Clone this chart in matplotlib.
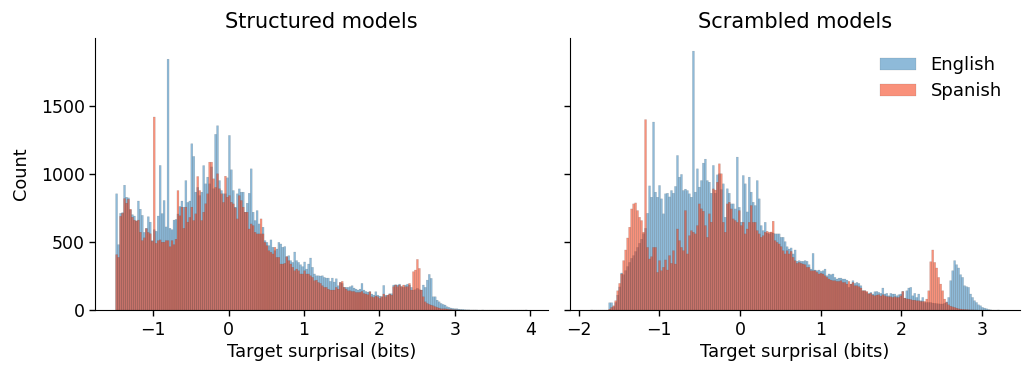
import numpy as np
import matplotlib
matplotlib.use("Agg")
import matplotlib.pyplot as plt
from matplotlib.patches import Patch

# ---------------------------------------------------------------
# Histogram counts of target surprisal (bits), equal-width bins
# ---------------------------------------------------------------
languages = ["English", "Spanish"]
panel_titles = ["Structured models", "Scrambled models"]
x_label = "Target surprisal (bits)"
y_label = "Count"

# Structured models: 208 bins spanning [-1.5, 3.96]
structured_range = (-1.5, 3.96)
structured_english = [
    853, 480, 710, 715, 916, 828, 823, 735, 700, 690,
    655, 800, 740, 695, 570, 600, 685, 645, 510, 590,
    578, 690, 1061, 708, 804, 610, 1840, 600, 590, 660,
    665, 705, 760, 800, 755, 950, 790, 800, 1220, 1127,
    865, 900, 840, 865, 1060, 926, 975, 926, 1050, 890,
    1289, 1352, 950, 877, 853, 853, 970,
    1281, 1029, 877, 755, 853, 889, 865, 865, 718, 784,
    857, 1036, 718, 657, 730, 632, 559, 608, 510, 497,
    473, 515, 461, 436, 448, 497, 485, 461, 466, 392,
    399, 363, 350, 426, 363, 350, 333, 319, 353, 301,
    338, 382, 314, 265, 252, 252, 250, 252, 240, 235,
    235, 211, 235, 206, 230, 179, 203, 196, 167, 167,
    167, 172, 179, 162, 154, 147, 154, 196, 147, 137,
    132,
    135, 118, 110, 135, 110, 103, 98, 181, 110, 108,
    120, 120, 184, 186, 184, 191, 172, 167, 184, 191,
    184, 167, 147, 150, 160, 150, 147, 184, 167, 220,
    262, 233, 98, 98, 73, 61, 49, 42, 37, 25,
    20, 15, 12, 10, 10, 7, 5, 5, 3, 2,
    2,
    1, 1, 1, 1, 0, 0, 1, 0, 0, 0,
    0, 0, 0, 0, 0, 0, 0, 0, 0, 0,
    0, 0, 0, 0, 0, 0, 0, 0, 1,
]
structured_spanish = [
    407, 387, 688, 710, 818, 784, 813, 740, 681, 660,
    652, 660, 571, 510, 530, 598, 570, 560, 505, 1416,
    490, 510, 515, 498, 498, 510, 510, 465, 510, 480,
    520, 877, 692, 755, 600, 755, 645, 680, 755, 657,
    706, 980, 877, 657, 718, 780, 853, 1085, 1085, 963,
    900, 1000, 890, 853, 790, 982, 828,
    840, 791, 779, 750, 669, 840, 804, 755, 718, 718,
    595, 632, 620, 571, 559, 559, 669, 559, 497, 473,
    436, 424, 412, 461, 387, 387, 338, 338, 343, 392,
    363, 338, 314, 289, 301, 289, 265, 265, 289, 265,
    265, 252, 240, 216, 220, 203, 196, 179, 167, 167,
    154, 147, 147, 147, 167, 154, 203, 211, 167, 154,
    142, 142, 137, 137, 130, 130, 130, 137, 122, 118,
    113,
    135, 98, 93, 103, 98, 86, 98, 118, 98, 110,
    118, 110, 172, 184, 172, 184, 172, 184, 172, 172,
    196, 147, 282, 294, 372, 306, 147, 98, 61, 49,
    42, 37, 32, 25, 20, 15, 10, 10, 10, 8,
    5, 5, 3, 3, 2, 1, 1, 0, 0, 0,
    0,
    0, 0, 0, 0, 0, 0, 0, 0, 0, 0,
    0, 0, 0, 0, 0, 0, 0, 0, 0, 0,
    0, 0, 0, 0, 0, 0, 0, 0, 0,
]

# Scrambled models: 205 bins spanning [-1.85, 3.22]
scrambled_range = (-1.85, 3.22)
scrambled_english = [
    1, 0, 0, 0, 0, 0, 0, 0, 0,
    54, 54, 25, 56, 110, 170, 272, 260, 290, 320,
    350, 380, 400, 430, 460, 490, 520, 560, 600, 710,
    911, 828, 1379, 865, 828, 914, 816, 706, 853, 857,
    830, 877, 857, 907, 1134, 975, 995, 877, 887, 877,
    853, 828, 1899, 865, 1036, 902, 950, 1078, 1107, 950,
    938, 857, 1061, 857, 992, 1000,
    884, 926, 681, 890, 857, 779, 779, 742, 1122, 754,
    645, 987, 926, 720, 975, 865, 791, 767, 950, 816,
    620, 583, 644, 565, 559, 568, 565, 559, 559, 559,
    534, 534, 502, 465, 448, 456, 412, 441, 358, 363,
    358, 358, 363, 358, 333, 301, 416, 294, 289, 294,
    284, 289, 301, 252, 265, 260, 265, 240, 228, 235,
    235, 228, 228, 220, 167, 191,
    216, 196, 203, 196, 179, 142, 142, 130, 123, 130,
    118, 135, 137, 130, 123, 162, 118, 123, 105, 123,
    118, 118, 105, 113, 118, 137, 88, 142, 162, 167,
    105, 123, 93, 118, 69, 93, 56, 56, 56, 56,
    52, 50, 48, 46, 45, 45, 50, 60, 93, 216,
    289, 363, 333, 309, 260, 240, 179, 172, 167, 118,
    93, 69, 56, 39, 32, 20, 15, 10, 5, 2,
    0, 0, 0, 1,
]
scrambled_spanish = [
    0, 0, 0, 0, 0, 0, 0, 0, 0,
    7, 20, 32, 69, 142, 196, 265, 363, 441, 529,
    608, 742, 779, 786, 730, 681, 657, 571, 1397, 460,
    375, 392, 460, 460, 277, 363, 289, 314, 368, 294,
    400, 343, 436, 338, 595, 510, 460, 436, 730, 412,
    546, 583, 571, 559, 620, 779, 743, 725, 620, 534,
    706, 645, 889, 880, 938, 1073,
    1000, 644, 571, 779, 791, 742, 669, 657, 644, 730,
    620, 644, 559, 595, 644, 767, 644, 644, 583, 559,
    534, 546, 571, 578, 571, 573, 652, 510, 497, 485,
    466, 436, 412, 436, 412, 431, 387, 363, 343, 350,
    343, 338, 333, 314, 314, 289, 289, 289, 277, 265,
    270, 265, 252, 240, 228, 220, 216, 216, 211, 211,
    216, 203, 203, 191, 211, 191,
    203, 179, 179, 172, 162, 142, 142, 137, 118, 123,
    110, 105, 110, 113, 103, 113, 105, 100, 98, 98,
    93, 98, 93, 93, 105, 137, 88, 83, 81, 78,
    73, 73, 69, 69, 64, 64, 64, 81, 142, 355,
    441, 350, 309, 240, 191, 142, 81, 56, 39, 29,
    24, 20, 15, 10, 8, 6, 5, 4, 3, 2,
    2, 1, 1, 0, 0, 0, 0, 0, 0, 0,
    0, 0, 0, 0,
]

structured_xticks = [-1, 0, 1, 2, 3, 4]
scrambled_xticks = [-2, -1, 0, 1, 2, 3]
count_yticks = [0, 500, 1000, 1500]

# ---------------------------------------------------------------
# Styling
# ---------------------------------------------------------------
colors = {
    "English": (0.122, 0.467, 0.706, 0.5),
    "Spanish": (0.960, 0.220, 0.060, 0.55),
}
edge_kw = dict(edgecolor=(0.2, 0.2, 0.2, 0.3), linewidth=0.25)

plt.rcParams["font.family"] = ["DejaVu Sans"]

fig = plt.figure(figsize=(10.22, 3.67), dpi=100)
ax_left = fig.add_axes([0.093, 0.155, 0.443, 0.741])
ax_right = fig.add_axes([0.558, 0.155, 0.440, 0.741], sharey=ax_left)


def draw_hist(ax, value_range, series):
    for lang in languages:
        counts = np.asarray(series[lang], dtype=float)
        edges = np.linspace(value_range[0], value_range[1], len(counts) + 1)
        bars = ax.bar(edges[:-1], counts, width=np.diff(edges), align="edge",
                      color=colors[lang], **edge_kw)
        for b in bars:
            b.set_snap(False)


draw_hist(ax_left, structured_range,
          {"English": structured_english, "Spanish": structured_spanish})
draw_hist(ax_right, scrambled_range,
          {"English": scrambled_english, "Spanish": scrambled_spanish})

for ax, title, xt in [(ax_left, panel_titles[0], structured_xticks),
                      (ax_right, panel_titles[1], scrambled_xticks)]:
    ax.set_title(title, fontsize=15, pad=7)
    ax.set_xlabel(x_label, fontsize=12.8, labelpad=3)
    ax.set_xticks(xt)
    ax.tick_params(axis="both", labelsize=12.5, length=4, width=1)
    ax.spines["top"].set_visible(False)
    ax.spines["right"].set_visible(False)

ax_left.set_yticks(count_yticks)
ax_left.set_ylabel(y_label, fontsize=12.8, labelpad=8)
ax_right.tick_params(axis="y", labelleft=False)

handles = [Patch(facecolor=colors[l], **edge_kw) for l in languages]
ax_right.legend(handles, languages, loc="upper right", frameon=False,
                fontsize=13, handlelength=2.0, borderaxespad=0.6,
                labelspacing=0.45)

fig.savefig("out.png", dpi=100)
